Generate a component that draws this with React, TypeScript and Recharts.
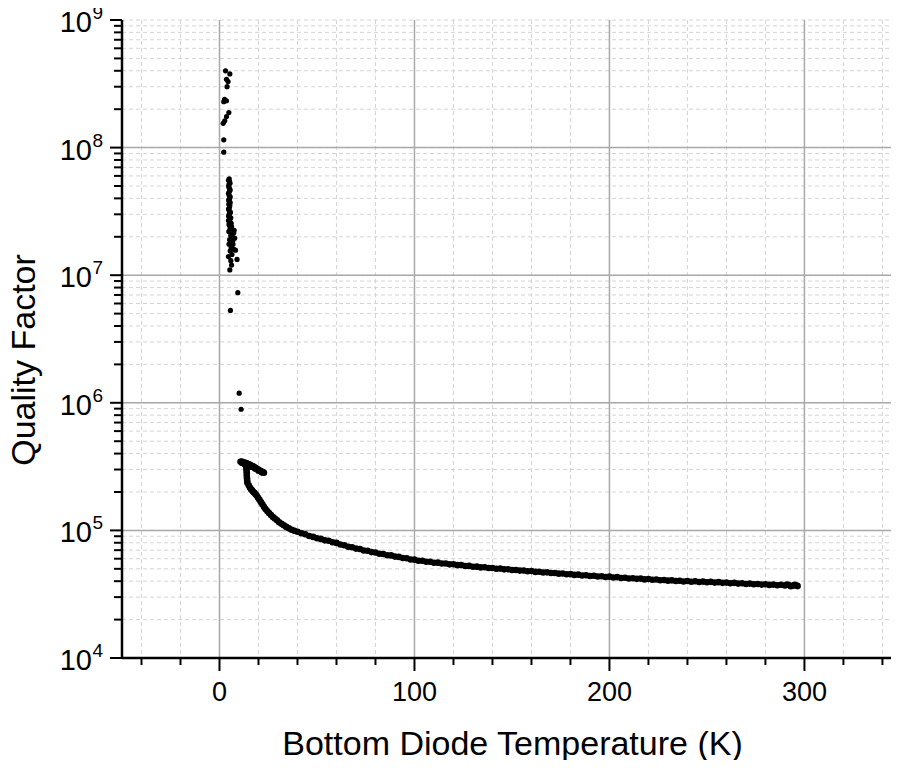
import React from 'react';
import {
  ScatterChart,
  Scatter,
  XAxis,
  YAxis,
  CartesianGrid,
  ReferenceLine,
} from 'recharts';

// low temperature readings (K) and quality factor
const lowTemps = [
  3.1, 5.3, 3.6, 4.4, 3.9, 2.6, 3.6, 2.2, 4.8, 3.6, 2.7, 1.9, 2.2, 2.2,
  5.0, 5.2, 4.8, 5.1, 5.0, 4.9, 5.2, 5.0, 4.8, 5.1, 5.0, 5.3, 4.7, 5.2, 5.6, 4.9,
  6.2, 5.4, 7.5, 4.8, 6.5, 5.8, 7.8, 5.2, 6.8, 4.9, 8.2, 6.0, 7.2, 5.5, 9.0, 6.4,
  5.8, 6.2, 5.3, 7.3, 4.6, 6.9,
  4.6, 5.4, 4.7, 5.5, 4.6, 5.5, 4.7, 5.5, 5.3, 4.6, 5.6, 4.9, 5.8, 4.6, 6.0, 5.1, 5.9,
  9.4, 5.6, 10.1, 11.1,
];
const lowQ = [
  4.0e8, 3.78e8, 3.43e8, 3.29e8, 3.0e8, 2.39e8, 2.33e8, 2.29e8, 1.88e8, 1.75e8, 1.62e8, 1.55e8, 1.15e8, 9.2e7,
  5.7e7, 5.4e7, 5.1e7, 4.8e7, 4.5e7, 4.25e7, 4.0e7, 3.8e7, 3.6e7, 3.4e7, 3.2e7, 3.05e7, 2.9e7, 2.75e7, 2.6e7, 2.5e7,
  2.4e7, 2.3e7, 2.25e7, 2.2e7, 2.1e7, 2.05e7, 1.95e7, 1.9e7, 1.85e7, 1.75e7, 1.57e7, 1.65e7, 1.6e7, 1.55e7, 1.33e7, 1.45e7,
  1.3e7, 1.2e7, 1.1e7, 2.15e7, 1.4e7, 1.75e7,
  5.55e7, 5.25e7, 4.95e7, 4.65e7, 4.38e7, 4.12e7, 3.9e7, 3.7e7, 3.5e7, 3.3e7, 3.12e7, 2.98e7, 2.82e7, 2.68e7, 2.55e7, 2.45e7, 2.35e7,
  7.3e6, 5.3e6, 1.19e6, 8.9e5,
];

// the flat streak at ~3e5 (Q in thousands)
const streakTemps = [
  10.8, 11.4, 12.0, 12.6, 13.2, 13.8, 14.4, 15.0, 15.6, 16.2, 16.8, 17.4, 18.0, 18.6,
  19.2, 19.8, 20.4, 21.0, 21.6, 22.2, 22.8, 11.6, 13.0, 16.0, 18.2, 20.0, 21.8,
];
const streakQk = [
  345, 346, 342, 340, 338, 336, 333, 330, 327, 323, 320, 316, 312, 308,
  304, 300, 296, 292, 289, 286, 283, 338, 330, 316, 305, 294, 284,
];

// drop and bend between 14 K and 40 K (Q in thousands)
const bendTemps = [
  13.6, 13.7, 13.8, 13.9, 14.0, 14.0, 14.1, 14.2, 14.3,
  15.0, 15.6, 16.2, 16.8, 17.4, 18.0, 18.6, 19.2, 19.8, 20.5, 21.2, 22.0, 22.8, 23.6,
  24.5, 25.4, 26.4, 27.4, 28.4, 29.5, 30.6, 31.8, 33.0, 34.3, 35.6, 37.0, 38.4,
];
const bendQk = [
  335, 320, 305, 292, 280, 268, 256, 245, 236,
  226, 217, 210, 205, 200, 196, 191, 186, 180, 174, 167, 160, 153, 147,
  142, 137, 132, 127.5, 124, 120, 116, 112.5, 109.5, 106.5, 103.8, 101.2, 99.3,
];

// long tail from 40 K to room temperature (Q in thousands)
const tailTemps = [
  40, 42, 44, 46, 48, 50, 52, 54, 56, 58, 60, 62, 64, 66, 68, 70, 72, 74, 76, 78,
  80, 82, 84, 86, 88, 90, 92, 94, 96, 98, 100, 102, 104, 106, 108, 110, 112, 114, 116, 118,
  120, 122, 124, 126, 128, 130, 132, 134, 136, 138, 140, 142, 144, 146, 148, 150, 152, 154, 156, 158,
  160, 162, 164, 166, 168, 170, 172, 174, 176, 178, 180, 182, 184, 186, 188, 190, 192, 194, 196, 198,
  200, 202, 204, 206, 208, 210, 212, 214, 216, 218, 220, 222, 224, 226, 228, 230, 232, 234, 236, 238,
  240, 242, 244, 246, 248, 250, 252, 254, 256, 258, 260, 262, 264, 266, 268, 270, 272, 274, 276, 278,
  280, 282, 284, 286, 288, 290, 292, 294, 296, 293, 295, 291, 296.5,
];
const tailQk = [
  97.7, 95.0, 93.4, 90.5, 88.9, 86.7, 85.8, 83.6, 82.9, 80.8, 79.8, 77.6, 76.5, 74.5, 73.8, 72.0, 71.5, 69.6, 69.2, 67.6,
  67.2, 65.7, 65.3, 63.9, 63.7, 62.3, 62.0, 60.8, 60.5, 59.2, 59.0, 57.9, 57.9, 56.8, 56.8, 55.8, 55.9, 55.0, 55.1, 54.2,
  54.3, 53.4, 53.5, 52.6, 52.7, 51.9, 52.0, 51.3, 51.4, 50.7, 50.8, 50.1, 50.2, 49.5, 49.6, 48.9, 49.0, 48.4, 48.5, 47.8,
  48.0, 47.3, 47.4, 46.8, 46.9, 46.3, 46.4, 45.8, 45.9, 45.3, 45.4, 44.8, 45.0, 44.3, 44.5, 43.9, 44.1, 43.5, 43.7, 43.1,
  43.4, 42.8, 43.0, 42.4, 42.6, 42.0, 42.2, 41.7, 41.9, 41.3, 41.6, 41.0, 41.2, 40.7, 40.9, 40.4, 40.6, 40.1, 40.3, 39.8,
  40.1, 39.6, 39.9, 39.4, 39.7, 39.2, 39.5, 39.0, 39.3, 38.8, 39.0, 38.5, 38.8, 38.3, 38.5, 38.0, 38.3, 37.8, 38.0, 37.6,
  37.8, 37.4, 37.6, 37.2, 37.5, 37.0, 37.3, 36.8, 37.0, 36.5, 37.4, 37.6, 36.6,
];

const xTicks = [-40, -20, 0, 20, 40, 60, 80, 100, 120, 140, 160, 180, 200, 220, 240, 260, 280, 300, 320, 340];
const xMajor = [0, 100, 200, 300];
const decades = [1e4, 1e5, 1e6, 1e7, 1e8, 1e9];
const minorSteps = [2, 3, 4, 5, 6, 7, 8, 9];

const yTicks: number[] = [];
decades.forEach((d, i) => {
  yTicks.push(d);
  if (i < decades.length - 1) minorSteps.forEach((m) => yTicks.push(d * m));
});

const toPoints = (ts: number[], qs: number[], scale = 1) =>
  ts.map((t, i) => ({ t, q: qs[i] * scale }));

const lowData = toPoints(lowTemps, lowQ);
const curveData = [
  ...toPoints(streakTemps, streakQk, 1000),
  ...toPoints(bendTemps, bendQk, 1000),
  ...toPoints(tailTemps, tailQk, 1000),
];

const FONT = '"Liberation Sans", Arial, sans-serif';

const XTick = (props: any) => {
  const { x, y, payload } = props;
  const v = payload.value;
  const major = v % 100 === 0;
  return (
    <g>
      <line x1={x} x2={x} y1={y} y2={y + (major ? 13 : 7)} stroke="#000" strokeWidth={2} />
      {major && (
        <text x={x} y={y + 43} textAnchor="middle" fontSize={27} fontFamily={FONT} fill="#000">
          {v}
        </text>
      )}
    </g>
  );
};

const YTick = (props: any) => {
  const { x, y, payload } = props;
  const v = payload.value;
  const e = Math.round(Math.log10(v));
  const major = Math.abs(v - Math.pow(10, e)) < v * 1e-6;
  return (
    <g>
      <line x1={x - (major ? 12 : 8)} x2={x} y1={y} y2={y} stroke="#000" strokeWidth={2} />
      {major && (
        <>
          <text x={x - 30} y={y + 12} textAnchor="end" fontSize={29} fontFamily={FONT} fill="#000">
            10
          </text>
          <text x={x - 29.5} y={y - 1} fontSize={19} fontFamily={FONT} fill="#000">
            {e}
          </text>
        </>
      )}
    </g>
  );
};

const dot = (r: number) => (p: any) => <circle cx={p.cx} cy={p.cy} r={r} fill="#000" />;

export default function App() {
  return (
    <div style={{ margin: -8, width: 899, height: 768, overflow: 'hidden', background: '#fff' }}>
      <ScatterChart width={899} height={768} margin={{ top: 20, right: 0, bottom: 0, left: 0 }}>
        <CartesianGrid stroke="#d4d4d4" strokeDasharray="4 3" strokeWidth={1} />
        {xMajor.map((v) => (
          <ReferenceLine key={'vx' + v} x={v} stroke="#a9a9a9" strokeWidth={1.5} />
        ))}
        {decades.slice(1, 5).map((v) => (
          <ReferenceLine key={'hy' + v} y={v} stroke="#a9a9a9" strokeWidth={1.5} />
        ))}
        <XAxis
          type="number"
          dataKey="t"
          domain={[-50, 348.5]}
          allowDataOverflow
          ticks={xTicks}
          interval={0}
          tick={<XTick />}
          tickLine={false}
          tickSize={0}
          tickMargin={0}
          axisLine={{ stroke: '#000', strokeWidth: 2.5 }}
          height={110}
          label={{
            content: (lp: any) => {
              const vb = lp.viewBox;
              return (
                <text
                  x={vb.x + vb.width / 2 + 2}
                  y={vb.y + 97}
                  textAnchor="middle"
                  fontSize={34}
                  fontFamily={FONT}
                  fill="#000"
                >
                  Bottom Diode Temperature (K)
                </text>
              );
            },
          }}
        />
        <YAxis
          type="number"
          dataKey="q"
          scale="log"
          domain={[1e4, 1e9]}
          allowDataOverflow
          ticks={yTicks}
          interval={0}
          tick={<YTick />}
          tickLine={false}
          tickSize={0}
          tickMargin={0}
          axisLine={{ stroke: '#000', strokeWidth: 2.5 }}
          width={122}
          label={{
            content: () => (
              <text
                x={35}
                y={360}
                transform="rotate(-90 35 360)"
                textAnchor="middle"
                fontSize={34}
                fontFamily={FONT}
                fill="#000"
              >
                Quality Factor
              </text>
            ),
          }}
        />
        <Scatter data={lowData} isAnimationActive={false} shape={dot(2.6)} />
        <Scatter data={curveData} isAnimationActive={false} shape={dot(3.3)} />
      </ScatterChart>
    </div>
  );
}
